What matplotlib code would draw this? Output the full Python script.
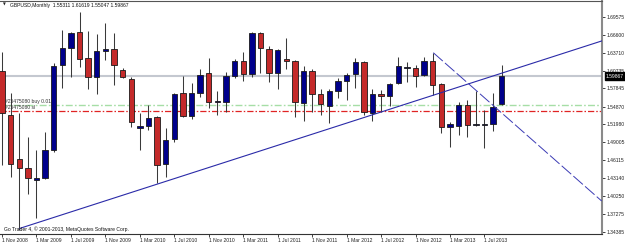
import matplotlib
matplotlib.use("Agg")
import matplotlib.pyplot as plt
from matplotlib.transforms import blended_transform_factory

# ---------------- data ----------------
months_idx = list(range(59))  # Nov 2008 .. Sep 2013
opens = [1.6074, 1.5349, 1.4623, 1.4476, 1.4280, 1.4322, 1.4776, 1.6167, 1.6440, 1.6702,
         1.6277, 1.5966, 1.6401, 1.6424, 1.6085, 1.5933, 1.5141, 1.5168, 1.5321, 1.4542,
         1.4951, 1.5704, 1.5332, 1.5704, 1.6031, 1.5556, 1.5556, 1.5992, 1.6237, 1.6015,
         1.6686, 1.6429, 1.6041, 1.6265, 1.6237, 1.5540, 1.6069, 1.5687, 1.5496, 1.5741,
         1.5905, 1.6015, 1.6211, 1.5386, 1.5687, 1.5664, 1.5867, 1.6113, 1.6113, 1.6003,
         1.6237, 1.5851, 1.5147, 1.5173, 1.5507, 1.5185, 1.5190, 1.5196, 1.55311]
highs = [1.6384, 1.5704, 1.5376, 1.4984, 1.4776, 1.5075, 1.6195, 1.6740, 1.6712, 1.7039,
         1.6728, 1.6674, 1.6859, 1.6686, 1.6110, 1.5966, 1.5376, 1.5512, 1.5332, 1.5131,
         1.5714, 1.5987, 1.5877, 1.6096, 1.6277, 1.5746, 1.6057, 1.6260, 1.6385, 1.6712,
         1.6712, 1.6478, 1.6430, 1.6604, 1.6249, 1.6150, 1.6096, 1.5769, 1.5769, 1.5949,
         1.6031, 1.6277, 1.6232, 1.5769, 1.5758, 1.5867, 1.6303, 1.6221, 1.6167, 1.6303,
         1.6368, 1.5867, 1.5239, 1.5566, 1.5594, 1.5746, 1.5430, 1.5704, 1.61619]
lows = [1.4530, 1.4339, 1.3466, 1.4050, 1.3658, 1.4296, 1.4748, 1.5786, 1.5975, 1.6139,
        1.5769, 1.5692, 1.6249, 1.5840, 1.5949, 1.5157, 1.4776, 1.5103, 1.4231, 1.4339,
        1.4912, 1.5311, 1.5278, 1.5648, 1.5458, 1.5348, 1.5403, 1.5949, 1.5910, 1.5966,
        1.6041, 1.5893, 1.5769, 1.6096, 1.5321, 1.5255, 1.5403, 1.5348, 1.5222, 1.5622,
        1.5594, 1.5786, 1.5348, 1.5255, 1.5403, 1.5496, 1.5856, 1.5893, 1.5812, 1.5987,
        1.5676, 1.5059, 1.4820, 1.5021, 1.4993, 1.5168, 1.4803, 1.5092, 1.55047]
closes = [1.5386, 1.4542, 1.4486, 1.4312, 1.4322, 1.4781, 1.6150, 1.6440, 1.6686, 1.6265,
          1.5966, 1.6401, 1.6429, 1.6167, 1.5966, 1.5239, 1.5168, 1.5295, 1.4530, 1.4939,
          1.5687, 1.5332, 1.5704, 1.6003, 1.5556, 1.5578, 1.5992, 1.6237, 1.6015, 1.6686,
          1.6440, 1.6041, 1.6412, 1.6237, 1.5566, 1.6074, 1.5687, 1.5529, 1.5741, 1.5905,
          1.5998, 1.6211, 1.5393, 1.5687, 1.5664, 1.5851, 1.6150, 1.6139, 1.5992, 1.6232,
          1.5840, 1.5147, 1.5196, 1.5507, 1.5185, 1.5201, 1.5201, 1.5484, 1.59867]

xtick_idx = [0, 4, 8, 12, 16, 20, 24, 28, 32, 36, 40, 44, 48, 52, 56]
xtick_labels = ["1 Nov 2008", "1 Mar 2009", "1 Jul 2009", "1 Nov 2009", "1 Mar 2010",
                "1 Jul 2010", "1 Nov 2010", "1 Mar 2011", "1 Jul 2011", "1 Nov 2011",
                "1 Mar 2012", "1 Jul 2012", "1 Nov 2012", "1 Mar 2013", "1 Jul 2013"]
ytick_vals = [1.69575, 1.66600, 1.63710, 1.60735, 1.57845, 1.54870, 1.51980,
              1.49005, 1.46115, 1.43140, 1.40250, 1.37275, 1.34385]

bid_price = 1.59867
buy_price = 1.5515
sl_price = 1.5410

trend_up_x = [2.09, 69.6]
trend_up_y = [1.3494, 1.6560]
trend_dn_x = [50.06, 69.6]
trend_dn_y = [1.6368, 1.3941]

title_text = "GBPUSD,Monthly  1.55311 1.61619 1.55047 1.59867"
copyright_text = "Go Trader 4, \u00a9 2001-2013, MetaQuotes Software Corp."

# ---------------- drawing ----------------
FONT = ["Liberation Sans", "DejaVu Sans"]
FS = 3.6
BULL = "#00008b"
BEAR = "#c42a2a"

fig = plt.figure(figsize=(6.25, 2.43), dpi=100)
fig.patch.set_facecolor("white")
ax = fig.add_axes([0, 9 / 243, 602 / 625, 233 / 243])
ax.set_facecolor("white")

# horizontal levels
ax.axhline(bid_price, color="#c4c8d0", lw=1.5, zorder=1)
ax.axhline(buy_price, color="#a6dea6", lw=1.0, ls=(0, (5, 1.6, 1.2, 1.6)), zorder=1)
ax.axhline(sl_price, color="#e02424", lw=0.9, ls=(0, (5, 1.6, 1.2, 1.6)), zorder=1)

# candles
ax.vlines(months_idx, lows, highs, color="#3a3a3a", lw=0.75, zorder=3)
bottoms = [min(o, c) for o, c in zip(opens, closes)]
heights = [abs(c - o) for o, c in zip(opens, closes)]
colors = [BULL if c >= o else BEAR for o, c in zip(opens, closes)]
ax.bar(months_idx, heights, bottom=bottoms, width=0.62, color=colors,
       edgecolor="#1a1a1a", linewidth=0.6, zorder=4)

# trend lines
ax.plot(trend_up_x, trend_up_y, color="#2a2aa8", lw=0.8, zorder=5)
ax.plot(trend_dn_x, trend_dn_y, color="#3a3ab4", lw=0.7, ls=(0, (13, 3)), zorder=5)

ax.set_xlim(-0.232, 69.64)
ax.set_ylim(1.34009, 1.72143)

# axes styling
ax.yaxis.tick_right()
ax.set_yticks(ytick_vals)
ax.set_yticklabels([f"{v:.5f}" for v in ytick_vals], fontsize=FS, family=FONT, color="#222222")
ax.tick_params(axis="y", length=2.2, width=0.6, pad=1.2, colors="#222222")
ax.set_xticks(xtick_idx)
ax.set_xticklabels(xtick_labels, fontsize=FS, family=FONT, color="#222222")
for lbl in ax.get_xticklabels():
    lbl.set_ha("left")
ax.tick_params(axis="x", length=2.0, width=0.6, pad=0.8, colors="#222222")

ax.spines["left"].set_visible(False)
ax.spines["top"].set_color("#555555")
ax.spines["top"].set_linewidth(0.8)
ax.spines["bottom"].set_color("#333333")
ax.spines["bottom"].set_linewidth(0.8)
ax.spines["right"].set_color("#8a8a8a")
ax.spines["right"].set_linewidth(1.5)

# bid price box on the right axis
tr = blended_transform_factory(ax.transAxes, ax.transData)
ax.text(1.0 + 4 / 602, bid_price, f"{bid_price:.5f}", transform=tr, ha="left", va="center",
        fontsize=FS, family=FONT, color="white", clip_on=False, zorder=10,
        bbox=dict(boxstyle="square,pad=0.3", fc="black", ec="black"))

# texts
fig.text(3 / 625, 1 - 5 / 243, "\u25bc", fontsize=2.6, family="DejaVu Sans", va="center", color="#222222")
fig.text(10 / 625, 1 - 5 / 243, title_text, fontsize=FS, family=FONT, va="center", color="#111111")
fig.text(4 / 625, 1 - 229 / 243, copyright_text, fontsize=FS, family=FONT, va="center", color="#111111")
fig.text(5 / 625, 1 - 101 / 243, "#25475080 buy 0.01", fontsize=FS, family=FONT, va="center", color="#333333")
fig.text(5 / 625, 1 - 107.7 / 243, "#25475080 sl", fontsize=FS, family=FONT, va="center", color="#333333")

fig.savefig("out.png", dpi=100, facecolor="white")
